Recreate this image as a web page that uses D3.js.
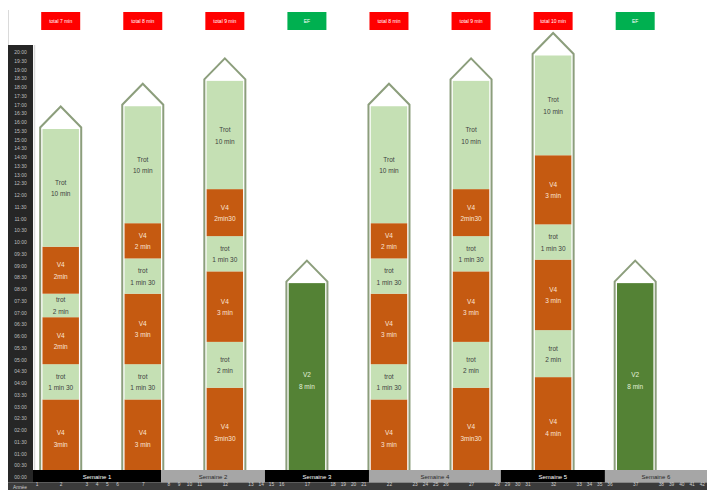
<!DOCTYPE html>
<html><head><meta charset="utf-8">
<script src="https://cdn.jsdelivr.net/npm/d3@7"></script>
<style>body{margin:0;background:#fff}svg{display:block;font-family:"Liberation Sans",Arial,sans-serif}</style>
</head><body><svg id="c" width="707" height="490"></svg>
<script>
// ---------- data ----------
const headerLabels = ["total 7 min","total 8 min","total 9 min","EF","total 8 min","total 9 min","total 10 min","EF"];
const headerKinds  = ["total","total","total","ef","total","total","total","ef"];

const segmentValues = [
  [3.3, 1.5, 2.0, 1.0, 2.0, 5.8],
  [3.3, 1.5, 3.0, 1.5, 1.5, 6.1],
  [3.8, 1.95, 3.0, 1.5, 2.0, 6.1],
  [8.25],
  [3.3, 1.5, 3.0, 1.5, 1.5, 6.1],
  [3.8, 1.95, 3.0, 1.5, 2.0, 6.1],
  [4.25, 2.0, 3.0, 1.5, 3.35, 5.7],
  [8.25]
];
const segmentTypes = [
  ["V4","trot","V4","trot","V4","Trot"],
  ["V4","trot","V4","trot","V4","Trot"],
  ["V4","trot","V4","trot","V4","Trot"],
  ["V2"],
  ["V4","trot","V4","trot","V4","Trot"],
  ["V4","trot","V4","trot","V4","Trot"],
  ["V4","trot","V4","trot","V4","Trot"],
  ["V2"]
];
const segmentDurations = [
  ["3min","1 min 30","2min","2 min","2min","10 min"],
  ["3 min","1 min 30","3 min","1 min 30","2 min","10 min"],
  ["3min30","2 min","3 min","1 min 30","2min30","10 min"],
  ["8 min"],
  ["3 min","1 min 30","3 min","1 min 30","2 min","10 min"],
  ["3min30","2 min","3 min","1 min 30","2min30","10 min"],
  ["4 min","2 min","3 min","1 min 30","3 min","10 min"],
  ["8 min"]
];

const timeLabels = ["00:00","00:30","01:00","01:30","02:00","02:30","03:00","03:30","04:00","04:30",
  "05:00","05:30","06:00","06:30","07:00","07:30","08:00","08:30","09:00","09:30",
  "10:00","10:30","11:00","11:30","12:00","12:30","13:00","13:30","14:00","14:30",
  "15:00","15:30","16:00","16:30","17:00","17:30","18:00","18:30","19:00","19:30","20:00"];

const weekLabels = ["Semaine 1","Semaine 2","Semaine 3","Semaine 4","Semaine 5","Semaine 6"];
const weekEdges  = [0.3, 12.78, 22.91, 33.05, 45.9, 56.05, 66];

const columnNumbers = d3.range(1, 43).map(String);
const yearLabel = "Année";

// ---------- layout ----------
const svg = d3.select("#c");
const colors = {V4:"#c55a11", trot:"#c5e0b4", Trot:"#c5e0b4", V2:"#548235"};
const textColors = {V4:"#fbe5d6", trot:"#404040", Trot:"#404040", V2:"#e2f0d9"};

const y = d3.scaleLinear().domain([0, 12.5, 20]).range([477, 183.25, 52]);
const x = d3.scaleLinear().domain([0.3, 66]).range([33, 707]);

// column layout (units): col1 [0.3,1], then per session: bar col (4 units) + 4 narrow (1 unit), final extra col
const colStarts = [0.3], colWidths = [0.7];
for (let k = 0; k < 8; k++) {
  colStarts.push(1 + 8*k); colWidths.push(4);
  for (let j = 0; j < 4; j++) { colStarts.push(5 + 8*k + j); colWidths.push(1); }
}
colStarts.push(65); colWidths.push(1);
const colCenters = colStarts.map((s,i) => s + colWidths[i]/2);
const barStart = k => 1 + 8*k, barEnd = k => 5 + 8*k;

// ---------- bars ----------
const gBars = svg.append("g");
const roofH = 21, inset = 2.3;
segmentValues.forEach((vals, k) => {
  const x0 = x(barStart(k)), x1 = x(barEnd(k)), cx = (x0 + x1)/2;
  let cum = 0;
  const segs = vals.map((v,i) => { const s = {y0:cum, y1:cum+v, type:segmentTypes[k][i], dur:segmentDurations[k][i]}; cum += v; return s; });
  const g = gBars.append("g");
  g.selectAll("rect").data(segs).join("rect")
    .attr("x", x0 + inset).attr("width", x1 - x0 - 2*inset)
    .attr("y", d => y(d.y1)).attr("height", d => y(d.y0) - y(d.y1))
    .attr("fill", d => colors[d.type]);
  const t = g.selectAll("text").data(segs).join("text")
    .attr("x", cx).attr("text-anchor","middle")
    .attr("font-size", 6.5).attr("fill", d => textColors[d.type]);
  t.append("tspan").attr("x", cx).attr("y", d => (y(d.y0)+y(d.y1))/2 - 3).text(d => d.type);
  t.append("tspan").attr("x", cx).attr("y", d => (y(d.y0)+y(d.y1))/2 + 8.5).text(d => d.dur);
  const top = y(cum) - 1.5;
  const path = d3.path();
  path.moveTo(x0, y(0)); path.lineTo(x0, top); path.lineTo(cx, top - roofH);
  path.lineTo(x1, top); path.lineTo(x1, y(0));
  g.append("path").attr("d", path.toString()).attr("fill","none")
    .attr("stroke","#8c9e7c").attr("stroke-width",2).attr("stroke-linejoin","miter");
});

// ---------- headers ----------
svg.append("g").selectAll("g").data(headerLabels).join("g").each(function(d,k){
  const cx = (x(barStart(k)) + x(barEnd(k)))/2;
  const g = d3.select(this);
  g.append("rect").attr("x", cx - 19.5).attr("y", 12).attr("width", 39).attr("height", 18)
    .attr("fill", headerKinds[k] === "ef" ? "#00b050" : "#ff0000");
  g.append("text").attr("x", cx).attr("y", 23).attr("text-anchor","middle")
    .attr("font-size", 5).attr("fill","#fff").text(d);
});

// ---------- week band ----------
const gW = svg.append("g");
weekLabels.forEach((w,i) => {
  const xa = x(weekEdges[i]), xb = x(weekEdges[i+1]);
  gW.append("rect").attr("x", xa).attr("y", 470).attr("width", xb - xa).attr("height", 12.5)
    .attr("fill", i % 2 === 0 ? "#000000" : "#a6a6a6");
  gW.append("text").attr("x", (xa+xb)/2).attr("y", 478.5).attr("text-anchor","middle")
    .attr("font-size", 6).attr("fill", i % 2 === 0 ? "#ffffff" : "#262626").text(w);
});

// ---------- bottom column-number row ----------
svg.append("rect").attr("x", 8).attr("y", 482.5).attr("width", 699).attr("height", 7.5).attr("fill","#3b3b3b");
const xAxis = d3.axisBottom(x).tickValues(colCenters).tickFormat((d,i) => columnNumbers[i]).tickSize(0).tickPadding(0);
const gx = svg.append("g").attr("transform","translate(0,483)").call(xAxis);
gx.select(".domain").remove();
gx.selectAll("text").attr("font-size", 4.8).attr("fill","#d0d0d0").attr("dy","0.55em").attr("font-family","Liberation Sans, Arial");
svg.append("text").attr("x", 20).attr("y", 488.5).attr("text-anchor","middle").attr("font-size",4.8).attr("fill","#d0d0d0").text(yearLabel);

// ---------- time axis column ----------
svg.append("rect").attr("x", 8).attr("y", 45).attr("width", 25).attr("height", 437.5).attr("fill","#262626");
svg.append("line").attr("x1", 8.5).attr("x2", 8.5).attr("y1", 10).attr("y2", 45).attr("stroke","#d0d0d0").attr("stroke-width",0.8);
svg.append("line").attr("x1", 34.5).attr("x2", 34.5).attr("y1", 45).attr("y2", 470).attr("stroke","#d9d9d9").attr("stroke-width",1.5);
const tickVals = timeLabels.map(s => { const [m, sec] = s.split(":").map(Number); return m + sec/60; });
const yAxis = d3.axisLeft(y).tickValues(tickVals).tickFormat((d,i) => timeLabels[i]).tickSize(0).tickPadding(0);
const gy = svg.append("g").attr("transform","translate(20.5,0)").call(yAxis);
gy.select(".domain").remove();
gy.selectAll("text").attr("text-anchor","middle").attr("font-size", 5).attr("fill","#bfbfbf").attr("font-family","Liberation Sans, Arial");
</script>
</body></html>
